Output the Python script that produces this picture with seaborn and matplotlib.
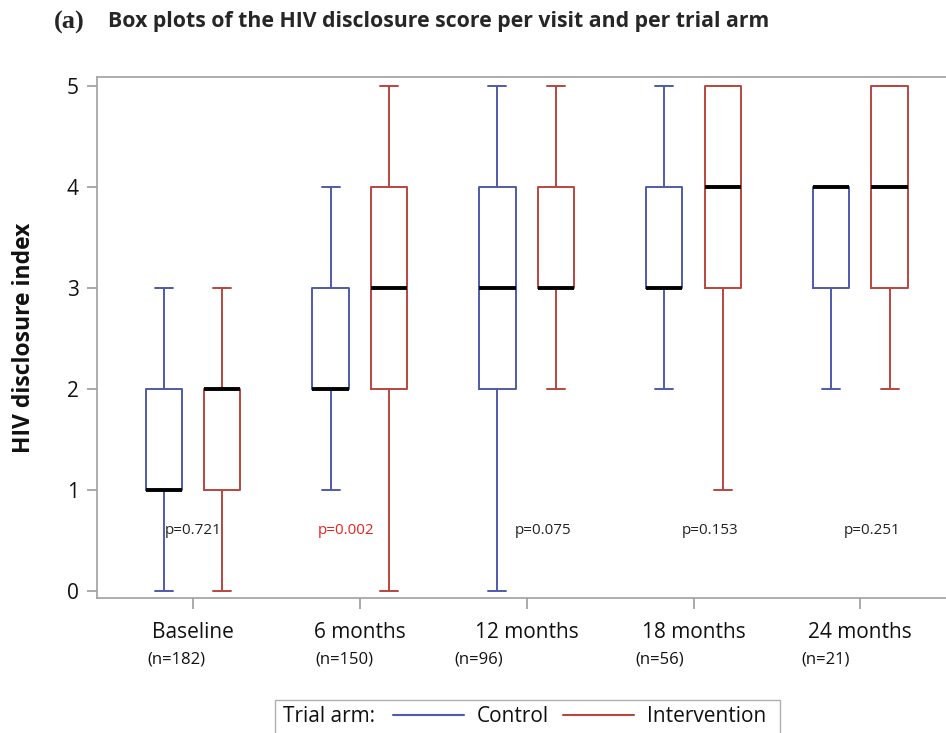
import matplotlib
matplotlib.use("Agg")
import matplotlib.pyplot as plt
from matplotlib.lines import Line2D
from matplotlib.patches import Rectangle
import seaborn as sns
import pandas as pd

# five-number summaries (min, q1, median, q3, max)
visits = ["Baseline", "6 months", "12 months", "18 months", "24 months"]
control_five = [[0, 1, 1, 2, 3], [1, 2, 2, 3, 4], [0, 2, 3, 4, 5],
                [2, 3, 3, 4, 5], [2, 3, 4, 4, 4]]
intervention_five = [[0, 1, 2, 2, 3], [0, 2, 3, 4, 5], [2, 3, 3, 4, 5],
                     [1, 3, 4, 5, 5], [2, 3, 4, 5, 5]]
p_values = ["p=0.721", "p=0.002", "p=0.075", "p=0.153", "p=0.251"]
p_colors = ["#222222", "#e8231f", "#222222", "#222222", "#222222"]
n_labels = ["(n=182)", "(n=150)", "(n=96)", "(n=56)", "(n=21)"]
arms = ["Control", "Intervention"]
arm_colors = {"Control": "#4f5ba8", "Intervention": "#b8463f"}

# long table; with 5 values per group the quartiles land on the given numbers
rows = []
for visit, c, i in zip(visits, control_five, intervention_five):
    for v in c:
        rows.append({"visit": visit, "arm": "Control", "score": v})
    for v in i:
        rows.append({"visit": visit, "arm": "Intervention", "score": v})
df = pd.DataFrame(rows)

sns.set_theme(style="white")
plt.rcParams["font.family"] = ["Open Sans", "DejaVu Sans"]

fig = plt.figure(figsize=(9.46, 7.33), dpi=100)
ax = fig.add_axes([97 / 946, 1 - 598 / 733, 1 - 97 / 946 + 0.01, (598 - 77) / 733])

sns.boxplot(data=df, x="visit", y="score", hue="arm", order=visits,
            hue_order=arms, palette=arm_colors, fill=False, whis=(0, 100),
            width=0.7, gap=0.38, linewidth=1.4, legend=False,
            medianprops=dict(color="black", linewidth=2.8), ax=ax)

ax.set_xlim(-0.575, 4.57)
ax.set_ylim(-0.07, 5.09)
ax.set_yticks([0, 1, 2, 3, 4, 5])
ax.set_xlabel("")
ax.set_ylabel("HIV disclosure index", fontsize=16.5, fontweight="bold",
              labelpad=22, color="#111111")
for s in ["left", "bottom", "top", "right"]:
    ax.spines[s].set_color("#a0a0a0")
    ax.spines[s].set_linewidth(1.2)
ax.tick_params(axis="y", left=True, length=7, color="#a0a0a0", labelsize=15,
               pad=6, labelcolor="#111111")
ax.tick_params(axis="x", bottom=True, length=8, color="#a0a0a0", labelsize=15,
               pad=9, labelcolor="#111111")

# p-values inside the plot
p_x = [0.0, 0.92, 2.1, 3.1, 4.07]
for x, t, col in zip(p_x, p_values, p_colors):
    ax.text(x, 0.6, t, ha="center", va="center", fontsize=11, color=col)

# sample sizes under the tick labels
n_x = [-0.1, 0.91, 1.71, 2.8, 3.79]
for x, t in zip(n_x, n_labels):
    ax.text(x, -0.68, t, ha="center", va="center", fontsize=12,
            color="#111111", clip_on=False)

fig.text(54 / 946, 1 - 22 / 733, "(a)", fontsize=19, fontweight="bold",
         family="Liberation Serif", va="center")
fig.text(108 / 946, 1 - 22 / 733,
         "Box plots of the HIV disclosure score per visit and per trial arm",
         fontsize=15.3, fontweight="bold", va="center")

# legend box: "Trial arm:" label, then the two arms
fig.patches.append(Rectangle((275 / 946, -0.01), (780 - 275) / 946,
                             (733 - 700) / 733 + 0.01, transform=fig.transFigure,
                             facecolor="white", edgecolor="#b0b0b0",
                             linewidth=1.0, zorder=1))
fig.text(283 / 946, 1 - 717 / 733, "Trial arm:", fontsize=15, va="center",
         color="#111111", zorder=3)
handles = [Line2D([], [], color=arm_colors["Control"], linewidth=1.5),
           Line2D([], [], color=arm_colors["Intervention"], linewidth=1.5)]
leg = fig.legend(handles, arms, ncol=2, loc="center left",
                 bbox_to_anchor=(393 / 946, 1 - 717 / 733), frameon=False,
                 fontsize=15, handlelength=3.4, handletextpad=0.6,
                 columnspacing=0.72, borderpad=0, borderaxespad=0,
                 labelcolor="#111111")
leg.set_zorder(3)

fig.savefig("out.png", dpi=100)
